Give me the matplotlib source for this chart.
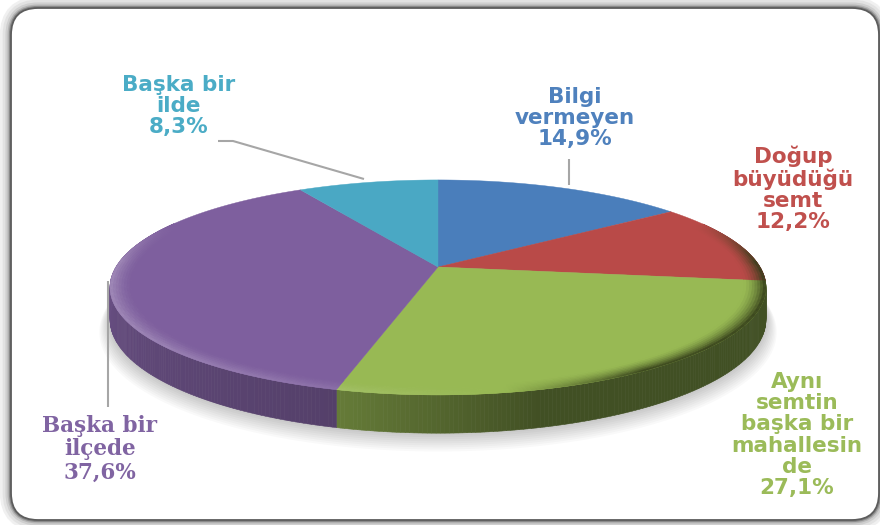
import numpy as np
import matplotlib
matplotlib.use("Agg")
import matplotlib.pyplot as plt
from matplotlib.collections import PolyCollection
from matplotlib.patches import FancyBboxPatch
from matplotlib.colors import to_rgb

# clockwise from 12 o'clock
categories = ["Bilgi\nvermeyen", "Doğup\nbüyüdüğü\nsemt", "Aynı\nsemtin\nbaşka bir\nmahallesin\nde",
              "Başka bir\nilçede", "Başka bir\nilde"]
values = [14.9, 12.2, 27.1, 37.6, 8.3]
value_labels = ["14,9%", "12,2%", "27,1%", "37,6%", "8,3%"]
face_colors = ["#4a7ebb", "#b94a48", "#98b954", "#7e5f9e", "#4aa8c4"]
text_colors = ["#4f81bd", "#c0504d", "#9bbb59", "#8064a2", "#4bacc6"]

# pie geometry in pixels, with a perspective term for the tilted disc
CX, CY = 438, 267
A, B, K = 322, 103.6, 0.19
DEPTH = 31


def project(theta, r=1.0, z=0.0):
    X = r * np.sin(theta)
    Y = r * np.cos(theta)
    d = 1 + K * Y
    return CX + A * X / d, CY - B * Y / d + z / (1 + K * np.cos(theta))


def mix(c, other, t):
    return tuple((1 - t) * a + t * b for a, b in zip(c, other))


fig = plt.figure(figsize=(8.8, 5.25), dpi=100)
ax = fig.add_axes([0, 0, 1, 1])
ax.set_xlim(0, 880)
ax.set_ylim(525, 0)
ax.axis("off")

# frame with soft outer shadow
for lw, col in [(16, "#f0f0f0"), (12, "#e2e2e2"), (8, "#cfcfcf"), (5, "#b4b4b4"), (3, "#8a8a8a")]:
    ax.add_patch(FancyBboxPatch((11, 8), 868, 512, boxstyle="round,pad=0,rounding_size=27",
                                fc="none", ec=col, lw=lw))
ax.add_patch(FancyBboxPatch((11, 8), 868, 512, boxstyle="round,pad=0,rounding_size=27",
                            fc="white", ec="#5c5c5c", lw=1.3))

# shadow under the disc
t = np.linspace(0, 2 * np.pi, 300)
for i in range(10):
    sx, sy = project(t, 1.0 + 0.0035 * (9 - i), DEPTH + 1.2 * (9 - i))
    ax.fill(sx, sy, color="black", alpha=0.025, lw=0)

fractions = np.array(values) / sum(values)
edges = np.concatenate([[0], np.cumsum(fractions)]) * 2 * np.pi

# side wall
quads, cols = [], []
for i, col in enumerate(face_colors):
    base = to_rgb(col)
    n = max(int((edges[i + 1] - edges[i]) * 90), 2)
    th = np.linspace(edges[i], edges[i + 1], n + 1)
    for a, b in zip(th[:-1], th[1:]):
        mid = np.degrees((a + b) / 2)
        if np.cos((a + b) / 2) > 0.45:
            continue
        f = np.interp(mid, [100, 165, 195, 285], [0.43, 0.43, 0.67, 0.87])
        x0, y0 = project(a)
        x1, y1 = project(b)
        x2, y2 = project(b, 1, DEPTH)
        x3, y3 = project(a, 1, DEPTH)
        quads.append([(x0, y0), (x1, y1), (x2, y2), (x3, y3)])
        cols.append(tuple(c * f for c in base))
ax.add_collection(PolyCollection(quads, facecolors=cols, edgecolors=cols, linewidths=0.4))

# top faces
for i, col in enumerate(face_colors):
    th = np.linspace(edges[i], edges[i + 1], 120)
    x, y = project(th)
    ax.fill(np.r_[CX, x], np.r_[CY, y], color=col, lw=0.3)

# bevel along the front rim
rs = np.linspace(0.935, 1.0, 9)
quads, cols = [], []
for i, col in enumerate(face_colors):
    base = to_rgb(col)
    n = max(int((edges[i + 1] - edges[i]) * 90), 2)
    th = np.linspace(edges[i], edges[i + 1], n + 1)
    for a, b in zip(th[:-1], th[1:]):
        m = (a + b) / 2
        w = np.clip((0.45 - np.cos(m)) / 0.4, 0, 1)
        if w == 0:
            continue
        s = np.cos(m - np.radians(260))
        for r0, r1 in zip(rs[:-1], rs[1:]):
            u = (0.5 * (r0 + r1) - rs[0]) / (rs[-1] - rs[0])
            if s > 0:
                c = mix(base, (1, 1, 1), 0.28 * s * w * u ** 1.5)
            else:
                c = mix(base, (0.2, 0.24, 0.1), min(1.0, 2.6 * abs(s)) * w * u ** 1.6)
            xa, ya = project(a, r0)
            xb, yb = project(b, r0)
            xc, yc = project(b, r1)
            xd, yd = project(a, r1)
            quads.append([(xa, ya), (xb, yb), (xc, yc), (xd, yd)])
            cols.append(c)
ax.add_collection(PolyCollection(quads, facecolors=cols, edgecolors=cols, linewidths=0.3))

# leader lines
for xs, ys in [([569, 569], [159, 185]),
               ([218, 233, 364], [141, 141, 179]),
               ([107.5, 107.5], [281, 407])]:
    ax.plot(xs, ys, color="#a6a6a6", lw=1.5, solid_capstyle="butt", zorder=1.5)

# labels
label_pos = [(575, 118), (793, 189), (797, 435), (100, 449), (179, 106)]
label_fonts = ["DejaVu Sans", "DejaVu Sans", "DejaVu Sans", "DejaVu Serif", "DejaVu Sans"]
for cat, val, col, (x, y), fam in zip(categories, value_labels, text_colors, label_pos, label_fonts):
    ax.text(x, y, cat + "\n" + val, color=col, family=fam, fontweight="bold", fontsize=15.5,
            ha="center", va="center", linespacing=1.08)

fig.savefig("out.png", dpi=100)
